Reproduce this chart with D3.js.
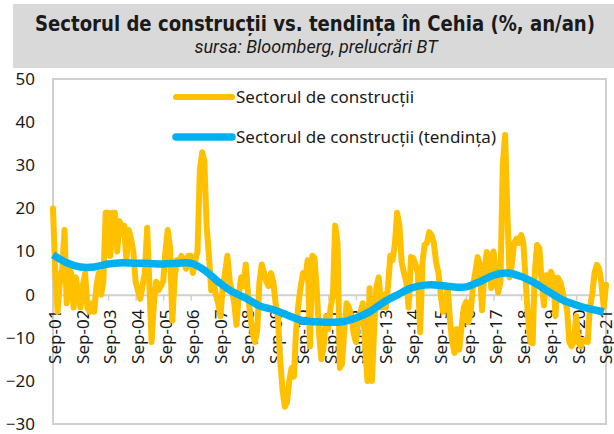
<!DOCTYPE html>
<html>
<head>
<meta charset="utf-8">
<script src="https://cdn.jsdelivr.net/npm/d3@7"></script>
<style>
  body { margin: 0; background: #fff; }
  text { fill: #1a1a1a; }
</style>
</head>
<body>
<svg id="chart"></svg>
<script>
(function chart() {
  // monthly y/y change, Sep-2001 .. Oct-2021
  const startMonth = new Date(2001, 8, 1);
  const construction = [
    20, 5, -4, 3, 6, 15, -2, 6, 5, -3, 4, 0,
    -3, 2, 5, -3, -4, -2, -4, 2, 5, 0, 3, 19,
    19, 9, 19, 19, 10, 17, 14, 16, 8, 15, 13, 10,
    3, 1, -1, 2, 5, 15.5, 3, -11, -2, 3, 1, 2,
    3, 10, 15, 11, -6, 4, 8, 7, 9, 8, 6, 9,
    9, 5, 8, 10, 29, 33, 31, 16, 9, 1, 3, 0,
    -2, -5, 2, 5, 9, 3, 1, -2, -7, 0, 4, 2,
    7, 0, -5, -9, -11, -8, 3, 7, 5, 3, 2, 5,
    3, -2, -5, -15, -22, -26, -25, -20, -17, -19, -8, -2,
    2, 5, 4, 8, -12, 9, 8.5, 1, -9, -15, -12, -5,
    -8, -3, 0, 16, 12, -17, -16, -8, -2, -3, -5, -9,
    -11, -6, -4, -2, -12, -20, 1.5, -20, -8, 2, 4, -3,
    0, -3, 2, 9, 8, 12, 19, 16, 7.5, 5, 3, -3,
    8.7, 8.5, 7, 5, -8.7, 7.5, 11.5, 12, 14.5, 13.8, 12, 7.5,
    5, 0, -4, -3, 1.5, -6, -11, -13.5, -8, -12.8, -7.8, -3,
    -1.7, -6.4, -4, 2, 5, 8.7, 7, -3.6, 5, 9.9, 9, 1.5,
    10, 4, 0.5, 3, 30, 37, 20, 4, 7, 12, 13, 12,
    13.8, 12, 3, -5, -11, -11.3, 5, 11.5, 10.8, 3, -2.5, 4.5,
    1, 5.3, 4, -5, 3.9, 3, 1, -1.7, -3, -11, -12, -11,
    -5, -11, -12, -10.5, -10.5, -11, -3, 0, 5, 6.9, 6, 2.7,
    -3, 2.3
  ];
  // trend read every 6 months (Sep / Mar)
  const trend = [
    9.2, 7.4, 6.4, 6.4, 7.1, 7.4, 7.3, 7.2, 7.1, 7.3,
    7.3, 5.7, 3, 0.7, -0.8, -2.6, -3.5, -4.7, -5.9, -6.3,
    -6.4, -6.3, -5.4, -4, -1.8, -0.1, 1.5, 2.2, 2.2, 1.8,
    1.8, 3, 4.5, 5, 4.2, 2.7, 0.7, -1.2, -2.4, -3.3,
    -4
  ];
  const trendStep = 6;
  const yTicks = [-30, -20, -10, 0, 10, 20, 30, 40, 50];
  const seriesNames = ["Sectorul de construcții", "Sectorul de construcții (tendința)"];
  const colors = ["#FFC000", "#00B0F0"];

  const W = 614, H = 434;
  const plot = { left: 53, right: 606, top: 79, bottom: 424 };

  const svg = d3.select("#chart").attr("width", W).attr("height", H);

  const monthDate = (i) => d3.timeMonth.offset(startMonth, i);

  const x = d3.scaleTime()
    .domain([startMonth, monthDate(construction.length - 1)])
    .range([plot.left, plot.right]);
  const y = d3.scaleLinear().domain([-30, 50]).range([plot.bottom, plot.top]);

  // header band
  svg.append("rect")
    .attr("x", 13).attr("y", 4).attr("width", W - 13).attr("height", 64)
    .attr("fill", "#d9d9d9");
  svg.append("text")
    .attr("x", 315).attr("y", 31)
    .attr("text-anchor", "middle")
    .style("font-family", "'Liberation Sans Narrow', 'DejaVu Sans Condensed', 'Roboto', sans-serif")
    .style("font-weight", "bold")
    .style("font-size", "22px")
    .attr("textLength", 560)
    .attr("lengthAdjust", "spacingAndGlyphs")
    .text("Sectorul de construcții vs. tendința în Cehia (%, an/an)");
  svg.append("text")
    .attr("x", 316).attr("y", 53)
    .attr("text-anchor", "middle")
    .style("font-family", "'Liberation Sans Narrow', 'Roboto', sans-serif")
    .style("font-style", "italic")
    .style("font-size", "18px")
    .text("sursa: Bloomberg, prelucrări BT");

  // plot frame
  svg.append("rect")
    .attr("x", plot.left).attr("y", plot.top)
    .attr("width", plot.right - plot.left).attr("height", plot.bottom - plot.top)
    .attr("fill", "none").attr("stroke", "#d0d0d0").attr("stroke-width", 2);

  // y axis
  svg.append("g")
    .attr("transform", `translate(${plot.left},0)`)
    .call(d3.axisLeft(y).tickValues(yTicks).tickSize(0).tickPadding(18))
    .call((g) => g.select(".domain").remove())
    .call((g) => g.selectAll("text")
      .style("font-family", "'Noto Sans', 'Open Sans', sans-serif")
      .style("font-size", "17px")
      .attr("fill", "#1a1a1a"));

  // x axis at zero
  const septembers = d3.range(0, construction.length, 12).map(monthDate);
  const xAxis = svg.append("g")
    .attr("transform", `translate(0,${y(0)})`)
    .call(d3.axisBottom(x).tickValues(septembers)
      .tickFormat(d3.timeFormat("%b-%y")).tickSize(6));
  xAxis.select(".domain").attr("stroke", "#d0d0d0").attr("stroke-width", 2);
  xAxis.selectAll(".tick line").attr("stroke", "#d0d0d0").attr("stroke-width", 1.5);
  xAxis.selectAll("text")
    .attr("transform", "rotate(-90)")
    .attr("text-anchor", "end")
    .attr("x", -15).attr("y", 2).attr("dy", "0.35em")
    .style("font-family", "'Noto Sans', 'Open Sans', sans-serif")
    .style("font-size", "17px")
    .attr("fill", "#1a1a1a");

  // lines
  const rawLine = d3.line()
    .x((d, i) => x(monthDate(i)))
    .y((d) => y(d));
  svg.append("path")
    .datum(construction)
    .attr("d", rawLine)
    .attr("fill", "none")
    .attr("stroke", colors[0])
    .attr("stroke-width", 6)
    .attr("stroke-linejoin", "round")
    .attr("stroke-linecap", "round");

  const trendLine = d3.line()
    .x((d, i) => x(monthDate(i * trendStep)))
    .y((d) => y(d))
    .curve(d3.curveCatmullRom.alpha(0.5));
  svg.append("path")
    .datum(trend)
    .attr("d", trendLine)
    .attr("fill", "none")
    .attr("stroke", colors[1])
    .attr("stroke-width", 7.5)
    .attr("stroke-linecap", "butt");

  // legend
  const legend = svg.append("g")
    .selectAll("g")
    .data(seriesNames)
    .join("g")
    .attr("transform", (d, i) => `translate(176,${97 + i * 40})`);
  legend.append("line")
    .attr("x1", 0).attr("x2", 56)
    .attr("stroke", (d, i) => colors[i])
    .attr("stroke-width", (d, i) => (i ? 7.5 : 6))
    .attr("stroke-linecap", "round");
  legend.append("text")
    .attr("x", 60).attr("dy", "0.35em")
    .style("font-family", "'Noto Sans', 'Open Sans', sans-serif")
    .style("font-size", "17px")
    .text((d) => d);
})();
</script>
</body>
</html>
